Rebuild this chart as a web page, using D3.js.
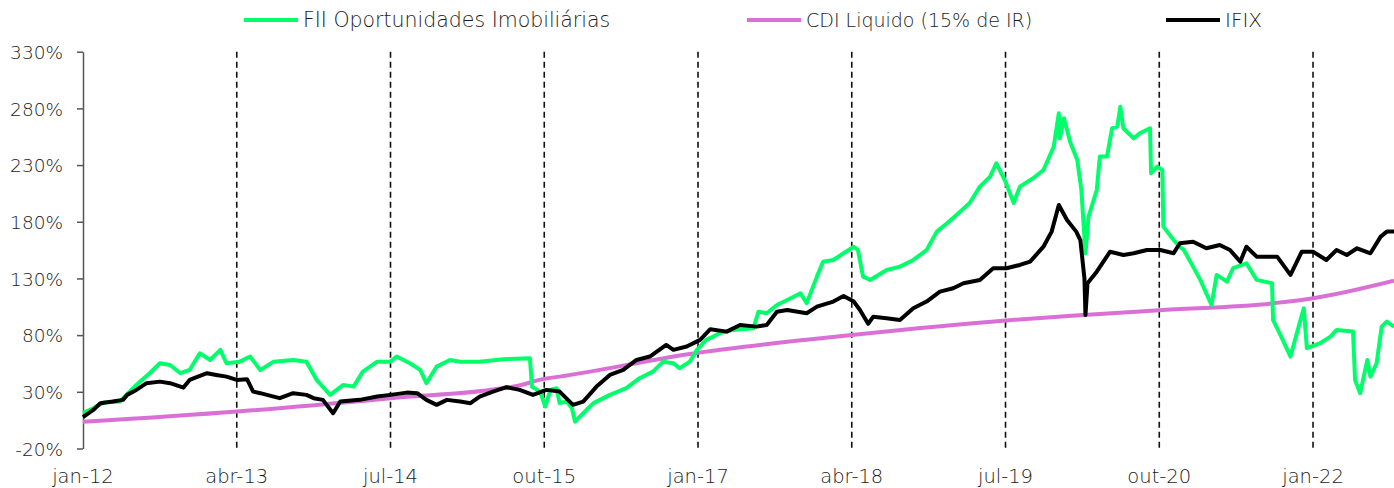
<!DOCTYPE html>
<html>
<head>
<meta charset="utf-8">
<script src="https://cdn.jsdelivr.net/npm/d3@7"></script>
<style>
  html, body { margin: 0; padding: 0; background: #fff; }
  svg text { font-family: "DejaVu Sans", sans-serif; font-weight: 200; fill: #1a1a1a; }
</style>
</head>
<body>
<svg id="chart" width="1394" height="488"></svg>
<script>
// Ticks do eixo X (meses desde jan-12)
const xTickMonths = [0, 15, 30, 45, 60, 75, 90, 105, 120];
const xTickLabels = ['jan-12', 'abr-13', 'jul-14', 'out-15', 'jan-17', 'abr-18', 'jul-19', 'out-20', 'jan-22'];
const yTicks = [-20, 30, 80, 130, 180, 230, 280, 330];

// Séries (mês desde jan-12, retorno acumulado em %)
const fiiMonths = [0.0, 1.0, 2.0, 3.6, 5.2, 6.5, 7.5, 8.5, 9.5, 10.4, 11.4, 12.4, 13.4, 14.0, 15.3, 16.3, 17.3, 18.6, 20.5, 21.8,
  22.8, 24.1, 25.4, 26.4, 27.3, 28.7, 30.0, 30.6, 31.9, 32.9, 33.5, 34.5, 35.8, 36.8, 38.7, 41.0, 43.6, 43.8, 44.6, 45.1,
  45.6, 46.2, 46.5, 47.2, 47.7, 48.0, 48.8, 49.8, 51.4, 53.0, 54.3, 55.6, 56.6, 57.6, 58.2, 59.2, 59.9, 60.8, 61.5, 62.1,
  63.4, 65.4, 65.9, 66.7, 67.7, 68.7, 70.0, 70.6, 71.6, 72.2, 73.2, 74.2, 75.2, 75.6, 76.1, 76.8, 78.4, 79.7, 81.0, 82.3,
  83.3, 84.3, 85.6, 86.5, 87.5, 88.5, 89.1, 90.0, 90.8, 91.4, 92.7, 93.7, 94.7, 95.2, 95.3, 95.7, 96.3, 97.0, 97.4, 97.8,
  98.1, 98.9, 99.2, 99.9, 100.4, 100.9, 101.2, 101.5, 102.5, 103.1, 104.1, 104.2, 104.8, 105.3, 105.4, 106.4, 107.0, 107.4, 108.3, 109.0,
  110.1, 110.6, 111.6, 112.2, 113.5, 114.5, 116.0, 116.1, 116.9, 117.8, 118.6, 119.1, 119.4, 120.7, 121.7, 122.3, 123.9, 124.1, 124.6, 125.3,
  125.6, 126.2, 126.7, 127.2, 127.9];
const fiiValues = [11.4, 15.5, 20.5, 21.4, 36.1, 46.4, 55.2, 53.7, 46.4, 49.3, 64, 58.1, 67, 55.2, 56.6, 61.1, 49.3, 56.6, 58.1, 56.6,
  40.5, 27.3, 36.1, 34.6, 47.8, 56.6, 56.6, 61.1, 55.2, 49.3, 37.6, 52.2, 58.1, 56.6, 56.6, 58.8, 59.6, 34.6, 30.2, 17,
  31.7, 33.2, 20, 21.4, 15.5, 3.7, 11.1, 20, 27.3, 33.2, 42, 47.8, 56.6, 55.2, 50.8, 56.6, 67, 75.8, 78.7, 81.7,
  84.6, 86, 100.7, 99.3, 106.6, 111, 116.9, 108.1, 131.6, 144.8, 146.3, 152.2, 158, 155.1, 131.6, 128.7, 137.5, 140.4, 146.3, 155.1,
  171.3, 178.7, 189.1, 196.5, 211, 219.8, 231.6, 215.4, 196.5, 211, 218.4, 225.7, 246.2, 275.7, 253.6, 271.3, 250.6, 234.5, 208, 152.2,
  184.5, 208, 237.5, 237.5, 262.5, 263.9, 281.5, 262.5, 253.6, 258, 262.5, 222.8, 228.6, 225.7, 175.7, 163.9, 158, 155.1, 140.4, 128.7,
  106.6, 133.1, 127.2, 139, 143.4, 128.7, 125.8, 93.4, 78.7, 61.1, 87.5, 103.7, 68.5, 72.9, 78.7, 84.6, 83.1, 40.5, 28.8, 58.1,
  43.4, 55.2, 87.5, 92, 87.5];

const cdiMonths = [0, 15, 30, 42.3, 45, 46.5, 60, 70.6, 75, 90, 98, 105, 116, 120, 127.9];
const cdiValues = [3.5, 12.6, 24.4, 35.2, 41.4, 43.4, 64.5, 76, 80.2, 93, 98, 102, 108, 112.5, 128];

const ifixMonths = [0.0, 1.0, 1.7, 2.9, 3.9, 4.3, 5.2, 6.2, 7.5, 8.5, 9.8, 10.4, 12.1, 13.0, 14.0, 15.0, 16.0, 16.6, 17.3, 18.6,
  19.2, 20.5, 21.8, 22.5, 23.4, 24.4, 25.1, 27.0, 28.7, 30.0, 31.6, 32.6, 33.5, 34.5, 35.5, 36.8, 37.8, 38.7, 40.0, 41.3,
  42.6, 43.9, 45.2, 46.5, 47.8, 48.8, 50.1, 51.4, 52.7, 54.0, 55.3, 56.9, 57.6, 58.9, 60.2, 61.2, 62.8, 64.1, 65.7, 66.7,
  67.7, 68.7, 70.6, 71.6, 73.2, 74.2, 75.2, 75.8, 76.6, 77.1, 78.4, 79.7, 81.0, 82.3, 83.6, 84.9, 85.9, 87.5, 88.8, 90.1,
  91.4, 92.4, 93.7, 94.5, 95.2, 96.0, 96.9, 97.3, 97.7, 97.8, 98.0, 98.9, 100.2, 101.5, 102.5, 103.8, 105.1, 106.4, 107.0, 108.3,
  109.6, 110.9, 111.9, 112.9, 113.5, 114.5, 116.5, 117.8, 118.9, 120.0, 121.3, 122.3, 123.3, 124.3, 125.6, 126.6, 127.2, 127.9];
const ifixValues = [7.7, 14, 20, 21.4, 22.9, 27.3, 31.7, 37.6, 39, 37.6, 33.7, 40.5, 46.4, 44.9, 43.4, 40.5, 41.1, 30.2, 28.8, 25.8,
  24.4, 28.8, 27.3, 24.4, 22.9, 11.1, 21.4, 22.9, 25.8, 27.3, 29.3, 28.8, 22.9, 18.5, 22.9, 21.4, 20, 25.8, 30.2, 34.1,
  31.7, 27.3, 31.7, 30.2, 18.5, 21.4, 34.6, 44.9, 49.3, 58.1, 61.1, 71.4, 67, 70, 75.8, 85.2, 83.1, 89, 87.5, 89,
  100.7, 102.2, 99.3, 105.1, 109.6, 114.6, 109.6, 102.2, 90, 96.3, 94.9, 93.4, 103.7, 109.6, 118.4, 121.4, 125.8, 128.7, 139, 139,
  141.9, 144.8, 158, 171.3, 194.8, 181.6, 171.3, 163.9, 130, 97.8, 125.8, 136, 153.6, 150.7, 152.2, 155.1, 155.1, 152.2, 161, 162.4,
  156.6, 159.5, 155.1, 144.8, 158, 149.2, 149.2, 133.1, 153.6, 153.6, 146.3, 155.1, 150.7, 156.6, 152.2, 166.9, 171.3, 171.3];

const svg = d3.select('#chart');
const plotLeft = 83, plotRight = 1394, plotTop = 51.7, plotBottom = 448.5;

const x = d3.scaleLinear().domain([0, 127.9]).range([plotLeft, plotRight]);
const y = d3.scaleLinear().domain([-20, 330]).range([plotBottom, plotTop]);

// Linhas verticais tracejadas
svg.append('g')
  .selectAll('line')
  .data(xTickMonths.slice(1))
  .join('line')
  .attr('x1', d => x(d)).attr('x2', d => x(d))
  .attr('y1', plotTop).attr('y2', plotBottom)
  .attr('stroke', '#111')
  .attr('stroke-width', 1.6)
  .attr('stroke-dasharray', '6,4');

// Eixo Y
const yAxis = svg.append('g')
  .attr('transform', `translate(${plotLeft},0)`)
  .call(d3.axisLeft(y).tickValues(yTicks).tickFormat(d => d + '%').tickSize(6).tickSizeOuter(0));
yAxis.select('.domain').attr('stroke', '#555').attr('stroke-width', 1.5);
yAxis.selectAll('.tick line').attr('stroke', '#555').attr('stroke-width', 1.5);
yAxis.selectAll('.tick text')
  .attr('x', -20)
  .attr('dy', '0.36em')
  .attr('fill', null)
  .style('font-size', '18.5px')
  .style('font-family', '"DejaVu Sans", sans-serif');

// Rótulos do eixo X
svg.append('g')
  .selectAll('text')
  .data(xTickMonths)
  .join('text')
  .attr('x', d => x(d))
  .attr('y', 483)
  .attr('text-anchor', 'middle')
  .style('font-size', '19.5px')
  .text((d, i) => xTickLabels[i]);

// Séries
const series = [
  { name: 'CDI Liquido (15% de IR)', months: cdiMonths, values: cdiValues, color: '#da70d6', curve: d3.curveMonotoneX },
  { name: 'FII Oportunidades Imobiliárias', months: fiiMonths, values: fiiValues, color: '#00ff6a', curve: d3.curveLinear },
  { name: 'IFIX', months: ifixMonths, values: ifixValues, color: '#000000', curve: d3.curveLinear }
];

series.forEach(s => {
  const pts = s.months.map((m, i) => [m, s.values[i]]);
  const line = d3.line().x(d => x(d[0])).y(d => y(d[1])).curve(s.curve);
  svg.append('path')
    .datum(pts)
    .attr('d', line)
    .attr('fill', 'none')
    .attr('stroke', s.color)
    .attr('stroke-width', 4)
    .attr('stroke-linejoin', 'round');
});

// Legenda
const legend = [
  { name: 'FII Oportunidades Imobiliárias', color: '#00ff6a', x: 244, size: 20.5 },
  { name: 'CDI Liquido (15% de IR)', color: '#da70d6', x: 747, size: 19 },
  { name: 'IFIX', color: '#000000', x: 1166, size: 20 }
];
const lg = svg.append('g').selectAll('g').data(legend).join('g')
  .attr('transform', d => `translate(${d.x},20)`);
lg.append('line')
  .attr('x1', 0).attr('x2', 54).attr('y1', 0).attr('y2', 0)
  .attr('stroke', d => d.color).attr('stroke-width', 4);
lg.append('text')
  .attr('x', 59).attr('y', 0).attr('dy', '0.36em')
  .style('font-size', d => d.size + 'px')
  .text(d => d.name);
</script>
</body>
</html>
